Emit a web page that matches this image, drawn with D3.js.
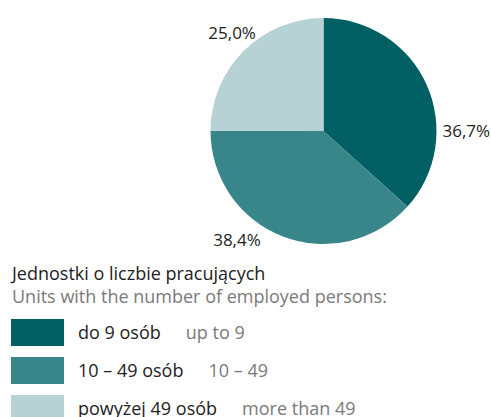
<!DOCTYPE html>
<html><head><meta charset="utf-8">
<script src="https://cdn.jsdelivr.net/npm/d3@7"></script>
<style>
html,body{margin:0;padding:0;background:#fff;}
svg{display:block;font-family:"Open Sans","Noto Sans",sans-serif;}
</style></head>
<body>
<svg id="c" width="491" height="417"></svg>
<script>
const categoriesPl = ["do 9 osób", "10 – 49 osób", "powyżej 49 osób"];
const categoriesEn = ["up to 9", "10 – 49", "more than 49"];
const values = [36.7, 38.4, 25.0];
const valueLabels = ["36,7%", "38,4%", "25,0%"];
const colors = ["#025f63", "#38868a", "#b7d2d5"];
const legendTitlePl = "Jednostki o liczbie pracujących";
const legendTitleEn = "Units with the number of employed persons:";

const svg = d3.select("#c");
const cx = 323.5, cy = 131, R = 113;
const g = svg.append("g").attr("transform", `translate(${cx},${cy})`);
const pie = d3.pie().sort(null).value(d => d);
const arcs = pie(values);
const arc = d3.arc().innerRadius(0).outerRadius(R);
g.selectAll("path").data(arcs).join("path")
  .attr("d", arc).attr("fill", (d, i) => colors[i]);

// label placement: angle (deg from top, clockwise), radius, anchor
const labelPos = [
  {a: 90, r: 119, anchor: "start"},
  {a: 218.5, r: 139, anchor: "middle"},
  {a: -43, r: 134, anchor: "middle"}
];
g.selectAll("text").data(arcs).join("text")
  .attr("x", (d, i) => Math.sin(labelPos[i].a * Math.PI / 180) * labelPos[i].r)
  .attr("y", (d, i) => -Math.cos(labelPos[i].a * Math.PI / 180) * labelPos[i].r)
  .attr("dy", "0.35em")
  .attr("text-anchor", (d, i) => labelPos[i].anchor)
  .attr("font-size", 17).attr("fill", "#222")
  .text((d, i) => valueLabels[i]);

// legend
const fs = 18;
const lg = svg.append("g");
lg.append("text").attr("x", 12).attr("y", 280).attr("font-size", fs).attr("fill", "#222").text(legendTitlePl);
lg.append("text").attr("x", 12).attr("y", 302.5).attr("font-size", fs).attr("fill", "#7a7a7a").text(legendTitleEn);
const y = d3.scaleBand().domain(d3.range(categoriesPl.length)).range([319, 319 + 38 * 3]).paddingInner(0);
const items = lg.selectAll("g.item").data(categoriesPl).join("g").attr("class", "item")
  .attr("transform", (d, i) => `translate(0,${y(i)})`);
items.append("rect").attr("x", 11).attr("y", 0).attr("width", 53).attr("height", 27)
  .attr("fill", (d, i) => colors[i]);
const plText = items.append("text").attr("x", 78).attr("y", 20).attr("font-size", fs).attr("fill", "#222").text(d => d);
plText.each(function(d, i) {
  const w = this.getComputedTextLength();
  d3.select(this.parentNode).append("text").attr("x", 78 + w + 25).attr("y", 20)
    .attr("font-size", fs).attr("fill", "#7a7a7a").text(categoriesEn[i]);
});
</script>
</body></html>
